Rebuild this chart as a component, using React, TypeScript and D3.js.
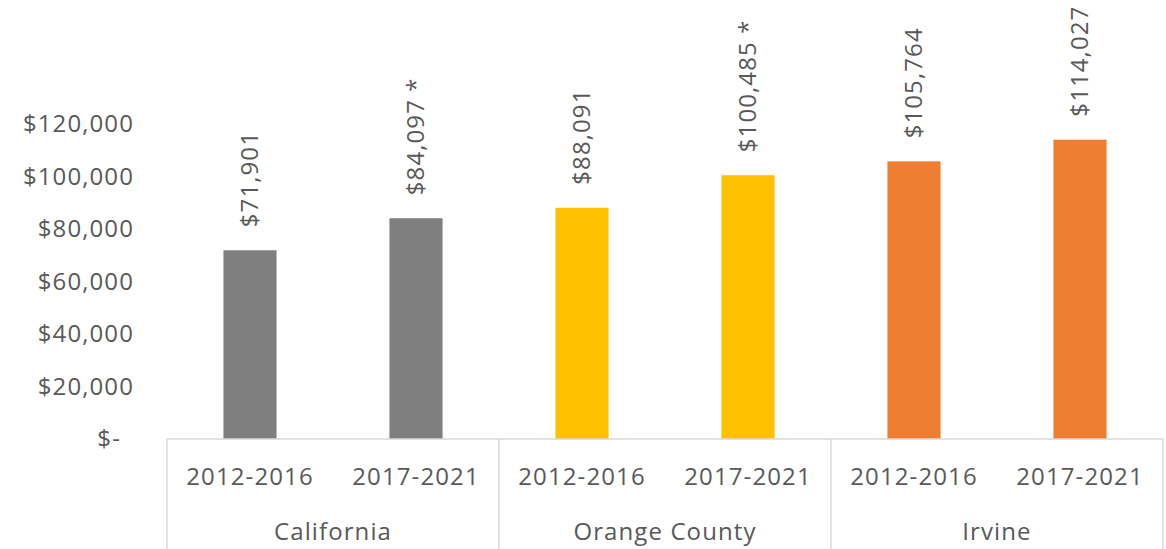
import React, { useEffect, useRef } from 'react';
import * as d3 from 'd3';

const regions = ['California', 'Orange County', 'Irvine'];
const periods = ['2012-2016', '2017-2021'];
const california = [71901, 84097];
const orangeCounty = [88091, 100485];
const irvine = [105764, 114027];
const markers = [['', ' *'], ['', ' *'], ['', '']];
const regionColors = ['#7f7f7f', '#ffc000', '#ed7d31'];
const yTicks = [0, 20000, 40000, 60000, 80000, 100000, 120000];

const W = 1166, H = 549;
const FONT = '"Open Sans", sans-serif';
const TEXT = '#595959';
const LINE = '#d9d9d9';

function App() {
    const ref = useRef<SVGSVGElement>(null);

    useEffect(() => {
        const svg = d3.select(ref.current);
        svg.selectAll('*').remove();

        const values = [california, orangeCounty, irvine];
        const rows = regions.flatMap((r, i) => periods.map((p, j) => ({
            region: r, period: p, value: values[i][j], mark: markers[i][j], color: regionColors[i]
        })));

        const x0 = d3.scaleBand().domain(regions).range([167, 1163]);
        const x1 = d3.scaleBand().domain(periods).range([0, x0.bandwidth()])
            .paddingInner(0.68).paddingOuter(0.34);
        const y = d3.scaleLinear().domain([0, 120000]).range([439, 124]);
        const fmt = d3.format(',');

        const label = (sel: any) => sel
            .style('font-family', FONT)
            .style('font-size', '24px')
            .style('letter-spacing', '1.1px')
            .attr('fill', TEXT);

        // y axis labels
        svg.append('g').selectAll('text').data(yTicks).join('text')
            .attr('x', d => d === 0 ? 121 : 134)
            .attr('y', d => y(d))
            .attr('dy', '0.35em')
            .attr('text-anchor', 'end')
            .call(label)
            .text(d => d === 0 ? '$-' : `$${fmt(d)}`);

        // bars
        svg.append('g').selectAll('rect').data(rows).join('rect')
            .attr('x', d => x0(d.region)! + x1(d.period)!)
            .attr('y', d => y(d.value))
            .attr('width', x1.bandwidth())
            .attr('height', d => y(0) - y(d.value))
            .attr('fill', d => d.color);

        // value labels, rotated
        svg.append('g').selectAll('text').data(rows).join('text')
            .attr('transform', d => {
                const cx = x0(d.region)! + x1(d.period)! + x1.bandwidth() / 2;
                return `translate(${cx},${y(d.value) - 23}) rotate(-90)`;
            })
            .attr('dy', '0.35em')
            .call(label)
            .text(d => `$${fmt(d.value)}${d.mark}`);

        // category axis lines
        const axis = svg.append('g').attr('stroke', LINE).attr('stroke-width', 1.5);
        axis.append('line')
            .attr('x1', x0.range()[0]).attr('x2', x0.range()[1])
            .attr('y1', y(0)).attr('y2', y(0));
        const bounds = regions.map(r => x0(r)!).concat([x0.range()[1]]);
        axis.selectAll('line.sep').data(bounds).join('line')
            .attr('class', 'sep')
            .attr('x1', d => d).attr('x2', d => d)
            .attr('y1', y(0)).attr('y2', H);

        // period labels
        svg.append('g').selectAll('text').data(rows).join('text')
            .attr('x', d => x0(d.region)! + x1(d.period)! + x1.bandwidth() / 2)
            .attr('y', 477)
            .attr('dy', '0.35em')
            .attr('text-anchor', 'middle')
            .call(label)
            .text(d => d.period);

        // region labels
        svg.append('g').selectAll('text').data(regions).join('text')
            .attr('x', d => x0(d)! + x0.bandwidth() / 2)
            .attr('y', 532)
            .attr('dy', '0.35em')
            .attr('text-anchor', 'middle')
            .call(label)
            .text(d => d);
    }, []);

    return (
        <svg ref={ref} width={W} height={H}
            style={{ position: 'absolute', left: 0, top: 0, background: '#fff' }}></svg>
    );
}

export default App;
